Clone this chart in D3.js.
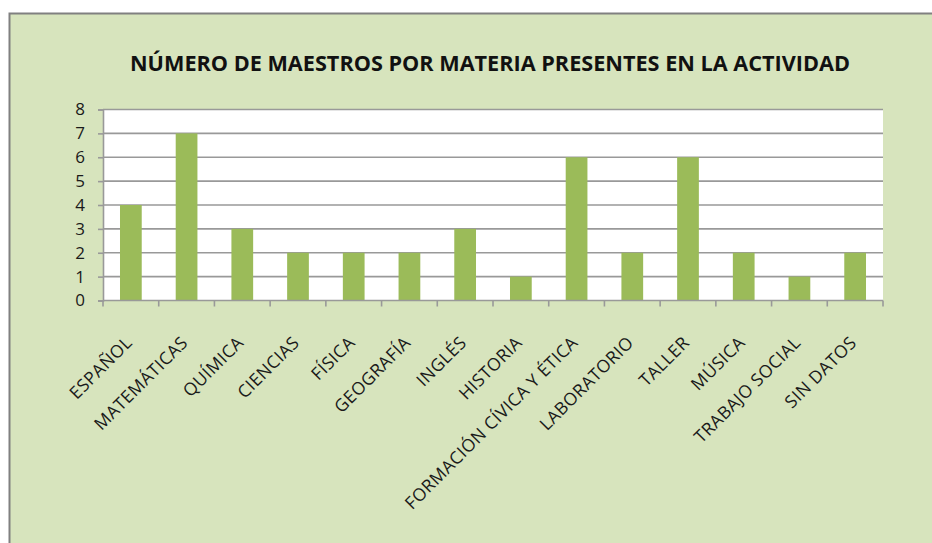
<!DOCTYPE html>
<html><head><meta charset="utf-8">
<script src="https://cdn.jsdelivr.net/npm/d3@7"></script>
<style>body{margin:0;background:#fff;}svg{display:block;}</style>
</head><body>
<script>
const title = "NÚMERO DE MAESTROS POR MATERIA PRESENTES EN LA ACTIVIDAD";
const categories = ["ESPAÑOL","MATEMÁTICAS","QUÍMICA","CIENCIAS","FÍSICA","GEOGRAFÍA","INGLÉS","HISTORIA","FORMACIÓN CÍVICA Y ÉTICA","LABORATORIO","TALLER","MÚSICA","TRABAJO SOCIAL","SIN DATOS"];
const values = [4,7,3,2,2,2,3,1,6,2,6,2,1,2];
const yTicks = [0,1,2,3,4,5,6,7,8];

const W=932,H=543;
const svg=d3.select("body").append("svg").attr("width",W).attr("height",H);
svg.append("rect").attr("x",9.5).attr("y",13.5).attr("width",W).attr("height",H).attr("fill","#D7E4BD").attr("stroke","#808080").attr("stroke-width",2);

const m={l:103,r:883,t:109.5,b:300.5};
const x=d3.scaleBand().domain(categories).range([m.l,m.r]).paddingInner(0.61).paddingOuter(0.305);
const xb=d3.scaleBand().domain(categories).range([m.l,m.r]);
const y=d3.scaleLinear().domain([0,8]).range([m.b,m.t]);
const lf="'Open Sans', sans-serif";

svg.append("rect").attr("x",m.l).attr("y",m.t).attr("width",m.r-m.l).attr("height",m.b-m.t).attr("fill","#fff");

// gridlines
svg.append("g").selectAll("line").data(yTicks.slice(1)).join("line")
  .attr("x1",m.l).attr("x2",m.r).attr("y1",d=>y(d)).attr("y2",d=>y(d))
  .attr("stroke","#999").attr("stroke-width",1.6);

// bars
svg.append("g").selectAll("rect").data(values).join("rect")
  .attr("x",(d,i)=>x(categories[i])).attr("width",x.bandwidth())
  .attr("y",d=>y(d)).attr("height",d=>y(0)-y(d)).attr("fill","#9BBB59");

// y axis
const ya=svg.append("g").attr("transform",`translate(${m.l},0)`)
  .call(d3.axisLeft(y).tickValues(yTicks).tickSize(5).tickPadding(13).tickFormat(d3.format("d")));
ya.select(".domain").attr("stroke","#999").attr("stroke-width",1.6);
ya.selectAll(".tick line").attr("stroke","#999").attr("stroke-width",1.6);
ya.selectAll("text").style("font-family",lf).style("font-size","17px").attr("fill","#1a1a1a");

// x axis
const xg=svg.append("g");
xg.append("line").attr("x1",m.l).attr("x2",m.r).attr("y1",m.b).attr("y2",m.b).attr("stroke","#999").attr("stroke-width",1.6);
const edges=categories.map(c=>xb(c)).concat([m.r]);
xg.selectAll("line.t").data(edges).join("line").attr("class","t")
  .attr("x1",d=>d).attr("x2",d=>d).attr("y1",m.b).attr("y2",m.b+6).attr("stroke","#999").attr("stroke-width",1.6);
xg.selectAll("text").data(categories).join("text")
  .attr("transform",d=>`translate(${x(d)+x.bandwidth()/2-1},${m.b+40}) rotate(-45)`)
  .attr("text-anchor","end").attr("dominant-baseline","middle")
  .style("font-family",lf).style("font-size","17.5px").style("letter-spacing","0.4px").attr("fill","#1a1a1a")
  .text(d=>d);

svg.append("text").attr("x",490).attr("y",71).attr("text-anchor","middle")
  .style("font-family",lf).style("font-weight","bold").style("font-size","21px")
  .attr("textLength",720).attr("lengthAdjust","spacingAndGlyphs").attr("fill","#111").text(title);
</script>
</body></html>
